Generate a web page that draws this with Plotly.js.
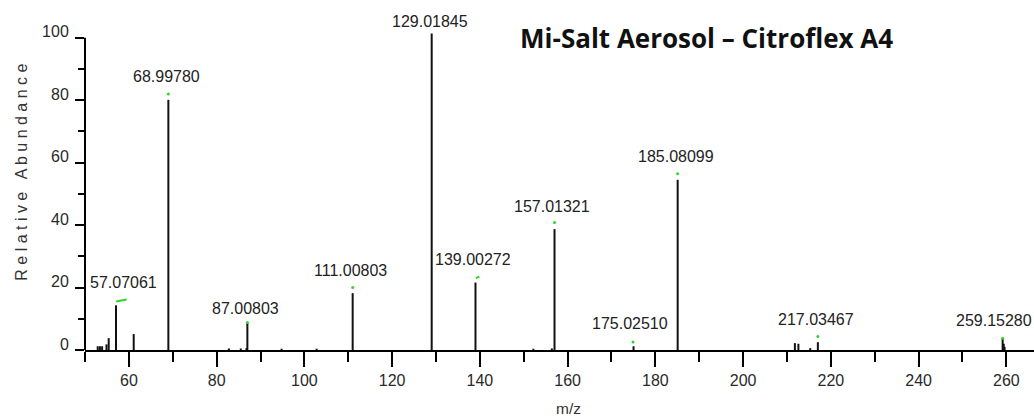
<!DOCTYPE html>
<html>
<head>
<meta charset="utf-8">
<script src="https://cdn.plot.ly/plotly-3.0.1.min.js"></script>
<style>html,body{margin:0;padding:0;background:#fff;}#chart{width:1034px;height:418px;}</style>
</head>
<body>
<div id="chart"></div>
<script>
// Labelled centroid peaks (m/z, relative abundance)
const peakMz = [57.07061, 68.99780, 87.00803, 111.00803, 129.01845, 139.00272, 157.01321, 175.02510, 185.08099, 217.03467, 259.15280];
const peakAbundance = [14.3, 80.1, 8.6, 18.2, 101.3, 21.6, 38.7, 1.2, 54.5, 2.5, 3.6];
const peakLabels = ["57.07061", "68.99780", "87.00803", "111.00803", "129.01845", "139.00272", "157.01321", "175.02510", "185.08099", "217.03467", "259.15280"];

// Small unlabelled peaks
const minorMz = [52.9, 53.4, 53.9, 54.9, 55.4, 61.1, 82.8, 85.5, 86.8, 94.8, 102.8, 152.2, 156.4, 211.8, 212.6, 215.3, 259.4, 259.6];
const minorAbundance = [1.2, 1.2, 1.2, 1.8, 3.8, 5.1, 0.5, 0.5, 0.6, 0.4, 0.4, 0.4, 0.5, 2.2, 2.0, 0.6, 2.0, 1.0];

// Green peak-pick marks
const pickDotMz = [68.998, 87.008, 111.008, 129.018, 157.013, 174.9, 185.081, 217.035, 259.153];
const pickDotAbundance = [82.0, 8.8, 20.0, 102.2, 40.8, 2.6, 56.4, 4.3, 3.8];
const pickDashMz = [57.1, 59.5, null, 139.06, 139.9];
const pickDashAbundance = [15.5, 16.2, null, 23.0, 23.5];

// Axis ticks
const xTickVals = [60, 80, 100, 120, 140, 160, 180, 200, 220, 240, 260];
const yTickVals = [0, 20, 40, 60, 80, 100];

function sticks(mz, ab) {
  const x = [], y = [];
  mz.forEach((m, i) => { x.push(m, m, null); y.push(0, ab[i], null); });
  return {x, y};
}
const s1 = sticks(peakMz, peakAbundance);
const s2 = sticks(minorMz, minorAbundance);

const traces = [
  {type: 'scatter', mode: 'lines', x: s1.x.concat(s2.x), y: s1.y.concat(s2.y),
   line: {color: '#111', width: 2}, hoverinfo: 'skip', showlegend: false},
  {type: 'scatter', mode: 'lines', x: pickDashMz, y: pickDashAbundance,
   line: {color: '#2fd52f', width: 2}, hoverinfo: 'skip', showlegend: false},
  {type: 'scatter', mode: 'markers', x: pickDotMz, y: pickDotAbundance, cliponaxis: false,
   marker: {color: '#2fd52f', size: 3, line: {width: 0}}, hoverinfo: 'skip', showlegend: false}
];

const xRange = [50, 266.3];
const yRange = [0, 101.5];
const tickFont = {family: 'Liberation Sans, Arial, sans-serif', size: 16, color: '#2a2a2a'};

const yShift = {"129.01845": 12, "87.00803": 15, "259.15280": 18};
const xShift = {"57.07061": 7, "157.01321": -3, "175.02510": -4, "259.15280": -9};

const annotations = peakLabels.map((t, i) => ({
  x: peakMz[i], y: peakAbundance[i], xref: 'x', yref: 'y', text: t, showarrow: false,
  xanchor: 'center', yanchor: 'middle',
  yshift: (yShift[t] !== undefined ? yShift[t] : 23),
  xshift: (xShift[t] !== undefined ? xShift[t] : -2),
  font: {family: 'Liberation Sans, Arial, sans-serif', size: 16, color: '#222'}
}));
annotations.push({
  xref: 'paper', yref: 'y', x: -0.0664, y: 57.1, textangle: -90, showarrow: false,
  xanchor: 'center', yanchor: 'middle',
  text: 'R e l a t i v e   A b u n d a n c e',
  font: {family: 'Liberation Sans, Arial, sans-serif', size: 16, color: '#333'}
});
annotations.push({
  xref: 'x', yref: 'paper', x: 160.1, y: -0.183, showarrow: false,
  xanchor: 'center', yanchor: 'middle', text: 'm/z',
  font: {family: 'Liberation Sans, Arial, sans-serif', size: 15.5, color: '#333'}
});

const layout = {
  width: 1034, height: 418,
  margin: {l: 85, r: 0, t: 33, b: 68, pad: 0},
  paper_bgcolor: '#fff', plot_bgcolor: '#fff',
  showlegend: false,
  title: {text: 'Mi-Salt Aerosol – Citroflex A4', xref: 'container', yref: 'container',
          x: 0.6834, y: 0.907, xanchor: 'center', yanchor: 'middle',
          font: {family: 'Open Sans, sans-serif', size: 26, weight: 700, color: '#111'}},
  xaxis: {range: xRange, autorange: false, tickmode: 'array', tickvals: xTickVals,
          ticks: 'outside', ticklen: 15, tickwidth: 2, tickcolor: '#000',
          minor: {dtick: 10, tick0: 0, ticks: 'outside', ticklen: 10, tickwidth: 2, tickcolor: '#000', showgrid: false},
          showline: true, linecolor: '#000', linewidth: 2,
          showgrid: false, zeroline: false, tickfont: tickFont, fixedrange: true},
  xaxis2: {range: xRange, autorange: false, overlaying: 'x', anchor: 'y', side: 'bottom',
           tickmode: 'linear', tick0: 0, dtick: 5, ticks: 'outside', ticklen: 4, tickwidth: 2, tickcolor: '#000',
           showticklabels: false, showline: false, showgrid: false, zeroline: false},
  yaxis: {range: yRange, autorange: false, tickmode: 'array', tickvals: yTickVals,
          ticks: 'outside', ticklen: 9, tickwidth: 2, tickcolor: '#000',
          minor: {dtick: 10, tick0: 0, ticks: 'outside', ticklen: 6, tickwidth: 2, tickcolor: '#000', showgrid: false},
          showline: false, showgrid: false, zeroline: false, tickfont: tickFont,
          ticklabelshift: -6, ticklabelstandoff: 3, fixedrange: true},
  yaxis2: {range: yRange, autorange: false, overlaying: 'y', anchor: 'x', side: 'left',
           tickmode: 'linear', tick0: 0, dtick: 5, ticks: 'outside', ticklen: 3, tickwidth: 2, tickcolor: '#000',
           showticklabels: false, showline: false, showgrid: false, zeroline: false},
  shapes: [{type: 'line', xref: 'paper', yref: 'y', x0: 0, x1: 0, y0: 0, y1: 100,
            line: {color: '#000', width: 2}, layer: 'above'}],
  annotations: annotations
};

Plotly.newPlot('chart', traces, layout, {staticPlot: true, displayModeBar: false});
</script>
</body>
</html>
